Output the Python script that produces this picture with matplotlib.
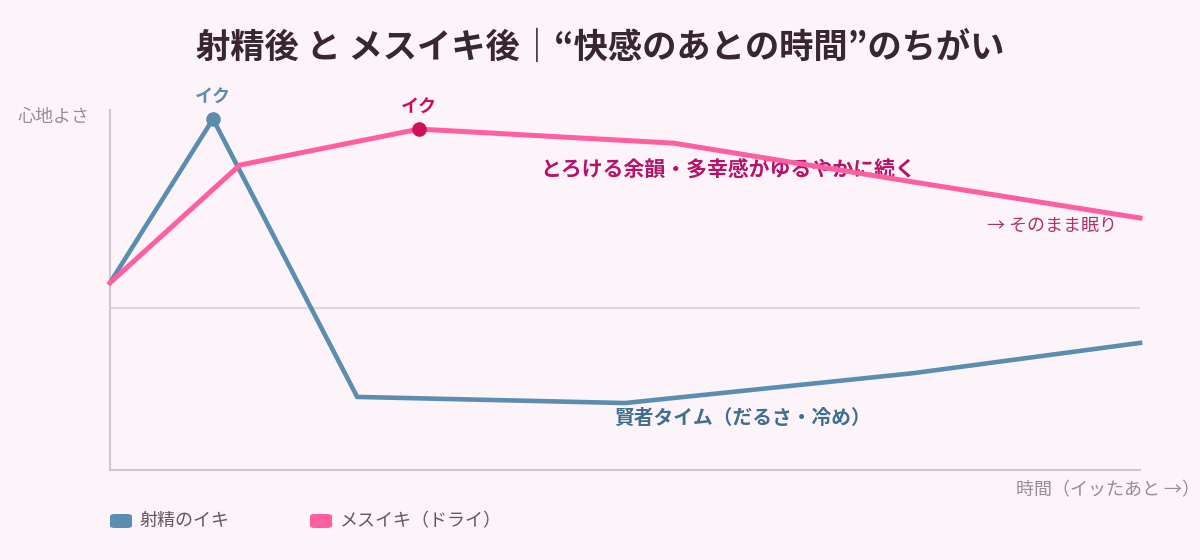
import matplotlib.pyplot as plt
from matplotlib.patches import FancyBboxPatch

plt.rcParams['font.family'] = ['Noto Sans CJK JP', 'DejaVu Sans']

# データ（時間 0-100、心地よさ 0-100）
t_ej = [0, 10, 24, 50, 78, 100]
v_ej = [52, 97.5, 20.3, 18.6, 26.9, 35.3]
t_dry = [0, 12.6, 30, 54.7, 78, 100]
v_dry = [52, 84.7, 94.7, 90.8, 80, 70]
peak_ej = 1
peak_dry = 2
mid_line = 45

labels = ['射精のイキ', 'メスイキ（ドライ）']
title = '射精後 と メスイキ後｜“快感のあとの時間”のちがい'

bg = '#fdf4fa'
blue = '#5b8db0'
pink = '#ff5ea1'
blue_txt = '#3f6f8f'
pink_txt = '#b5126a'
gray = '#9c8a96'

fig = plt.figure(figsize=(12, 5.6), dpi=100, facecolor=bg)
ax = fig.add_axes([110/1200, 90/560, 1030/1200, 360/560])
ax.set_facecolor(bg)
ax.set_xlim(0, 100)
ax.set_ylim(0, 100)

ax.axhline(mid_line, color='#e2d6dc', lw=1.5, zorder=1)
ax.plot(t_ej, v_ej, color=blue, lw=3.3, solid_joinstyle='miter', zorder=3, clip_on=False)
ax.plot(t_dry, v_dry, color=pink, lw=3.6, solid_joinstyle='miter', zorder=4, clip_on=False)
ax.plot(t_ej[peak_ej], v_ej[peak_ej], 'o', color=blue, ms=9.5, zorder=5, clip_on=False)
ax.plot(t_dry[peak_dry], v_dry[peak_dry], 'o', color='#d2105a', ms=9.5, zorder=5, clip_on=False)

ax.annotate('イク', (t_ej[peak_ej], v_ej[peak_ej]), xytext=(0, 22), textcoords='offset pixels',
            ha='center', va='center', fontsize=13, fontweight='bold', color=blue)
ax.annotate('イク', (t_dry[peak_dry], v_dry[peak_dry]), xytext=(0, 22), textcoords='offset pixels',
            ha='center', va='center', fontsize=13, fontweight='bold', color='#c8105a')

ax.text(60, 83.3, 'とろける余韻・多幸感がゆるやかに続く', ha='center', va='center',
        fontsize=15, fontweight='bold', color=pink_txt)
ax.text(97.8, 67.8, '→ そのまま眠り', ha='right', va='center', fontsize=13, color='#b0306e')
ax.text(61.4, 14.2, '賢者タイム（だるさ・冷め）', ha='center', va='center',
        fontsize=14.2, fontweight='bold', color=blue_txt)

for s in ['top', 'right']:
    ax.spines[s].set_visible(False)
for s in ['left', 'bottom']:
    ax.spines[s].set_color('#d4c6cd')
    ax.spines[s].set_linewidth(1.5)
ax.set_xticks([])
ax.set_yticks([])

fig.text(18/1200, 1 - 117/560, '心地よさ', ha='left', va='center', fontsize=13, color=gray)
fig.text(1200/1200, 1 - 490/560, '時間（イッたあと →）', ha='right', va='center', fontsize=13, color=gray)
fig.text(600/1200, 1 - 47/560, title, ha='center', va='center', fontsize=24.7,
         fontweight='bold', color='#3a2630')

# 凡例
for i, (lab, c) in enumerate(zip(labels, [blue, pink])):
    x0 = 110 + i * 200
    box = FancyBboxPatch((x0/1200, 1 - 528/560), 22/1200, 14/560,
                         boxstyle='round,pad=0,rounding_size=0.004',
                         transform=fig.transFigure, facecolor=c, edgecolor='none')
    fig.patches.append(box)
    fig.text((x0 + 30)/1200, 1 - 521/560, lab, ha='left', va='center', fontsize=13, color='#6a5560')

fig.savefig('out.png', dpi=100, facecolor=bg)
